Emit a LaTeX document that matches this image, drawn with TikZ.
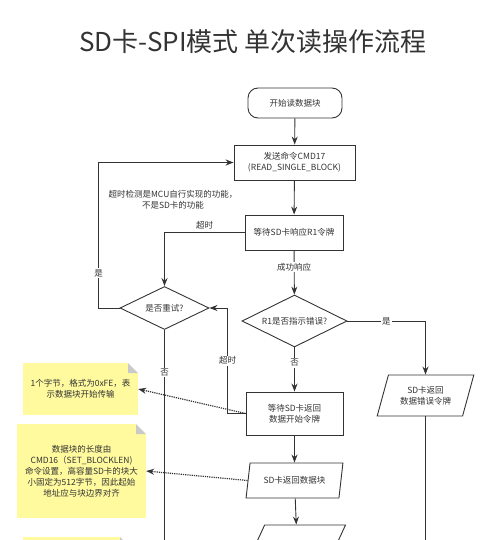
\documentclass[tikz,border=0pt]{standalone}
\usepackage{fontspec}
\setmainfont{Noto Sans CJK SC}
\usepackage{tikz}
\usetikzlibrary{arrows.meta,shapes.geometric}

\definecolor{linegray}{HTML}{333333}
\definecolor{noteyellow}{HTML}{FFFA9E}
\definecolor{foldgray}{HTML}{C9C9C9}

\begin{document}
\begin{tikzpicture}[x=1pt, y=-1pt, font=\fontsize{8.5}{11}\selectfont, text=linegray,
line/.style={draw=linegray, line width=0.9pt},
arr/.style={line, -{Stealth[length=8pt, width=6pt]}},
dots/.style={draw=linegray, line width=1.2pt, densely dotted, -{Stealth[length=8pt, width=6pt]}},
lbl/.style={fill=white, inner sep=1pt},
box/.style={line, align=center, inner sep=0pt},
term/.style={box, rounded corners=10pt},
io/.style={box, trapezium, trapezium stretches=true, inner sep=2pt},
choice/.style={box, diamond, aspect=2},
note/.style={fill=noteyellow, align=center, inner sep=0pt,
  path picture={\fill[white] (path picture bounding box.north east) -- ++(-10pt,0pt) -- ++(10pt,-10pt) -- cycle;
  \fill[foldgray] (path picture bounding box.north east) ++(-10pt,0pt) -- ++(0pt,-10pt) -- ++(10pt,0pt) -- cycle;}}]
\useasboundingbox (0,0) rectangle (500,540);
\clip (0,0) rectangle (500,540);
\node (title) at (253,42) {\fontsize{26}{30}\selectfont SD卡-SPI模式 单次读操作流程};
\node[term, minimum width=94pt, minimum height=30pt] (start) at (295,103) {开始读数据块};
\node[box, minimum width=121pt, minimum height=35pt] (cmd) at (294.5,162.5) {发送命令CMD17\\(READ\_SINGLE\_BLOCK)};
\node[align=center] (remark) at (173,200) {超时检测是MCU自行实现的功能，\\不是SD卡的功能};
\node[box, minimum width=98pt, minimum height=35pt] (waitr1) at (294,232.5) {等待SD卡响应R1令牌};
\node[choice, minimum width=89pt, minimum height=43pt] (retry) at (164.5,308) {是否重试?};
\node[choice, minimum width=105pt, minimum height=52pt] (r1) at (294.5,321) {R1是否指示错误?};
\node[io, trapezium left angle=70, trapezium right angle=110, minimum width=97pt, minimum height=41pt] (errtok) at (425.5,395.5) {SD卡返回\\数据错误令牌};
\node[box, minimum width=97pt, minimum height=43pt] (waitdata) at (294.5,413.5) {等待SD卡返回\\数据开始令牌};
\node[io, trapezium left angle=76, trapezium right angle=104, minimum width=97pt, minimum height=35pt] (data) at (294.5,480.5) {SD卡返回数据块};
\node[io, trapezium left angle=76, trapezium right angle=104, minimum width=97pt, minimum height=35pt] (nextio) at (297,542.5) {};
\node[note, minimum width=115pt, minimum height=52pt] (note1) at (80.5,389) {1个字节，格式为0xFE，表\\示数据块开始传输};
\node[note, minimum width=129pt, minimum height=94pt] (note2) at (81.5,471) {数据块的长度由\\CMD16（SET\_BLOCKLEN)\\命令设置，高容量SD卡的块大\\小固定为512字节，因此起始\\地址应与块边界对齐};
\node[note, minimum width=107pt, minimum height=52pt] (note3) at (76.5,563) {};

\draw[arr] (start) -- (cmd);
\draw[arr] (cmd) -- (waitr1);
\draw[arr] (waitr1) -- (r1) node[lbl, pos=0.38] {成功响应};
\draw[arr] (waitr1.west) -| (retry.north) node[pos=0.25, above] {超时};
\draw[arr] (retry.west) -- ++(-21,0) |- (cmd.west) node[lbl, pos=0.12] {是};
\draw[line] (retry.south) -- ++(0,250) node[lbl, pos=0.17] {否};
\draw[arr] (r1.east) -| (errtok.north) node[lbl, pos=0.25] {是};
\draw[line] (errtok.south) -- ++(0,150);
\draw[arr] (r1) -- (waitdata) node[lbl, pos=0.35] {否};
\draw[arr] (waitdata.west) -- ++(-18,0) |- (retry.east) node[lbl, pos=0.25] {超时};
\draw[arr] (waitdata) -- (data);
\draw[arr] (data) -- (nextio);
\draw[dots] (waitdata.west) -- (note1.east);
\draw[dots] (data.west) -- (note2.east);
\draw[dots] (nextio.west) -- (note3.east);
\end{tikzpicture}
\end{document}
